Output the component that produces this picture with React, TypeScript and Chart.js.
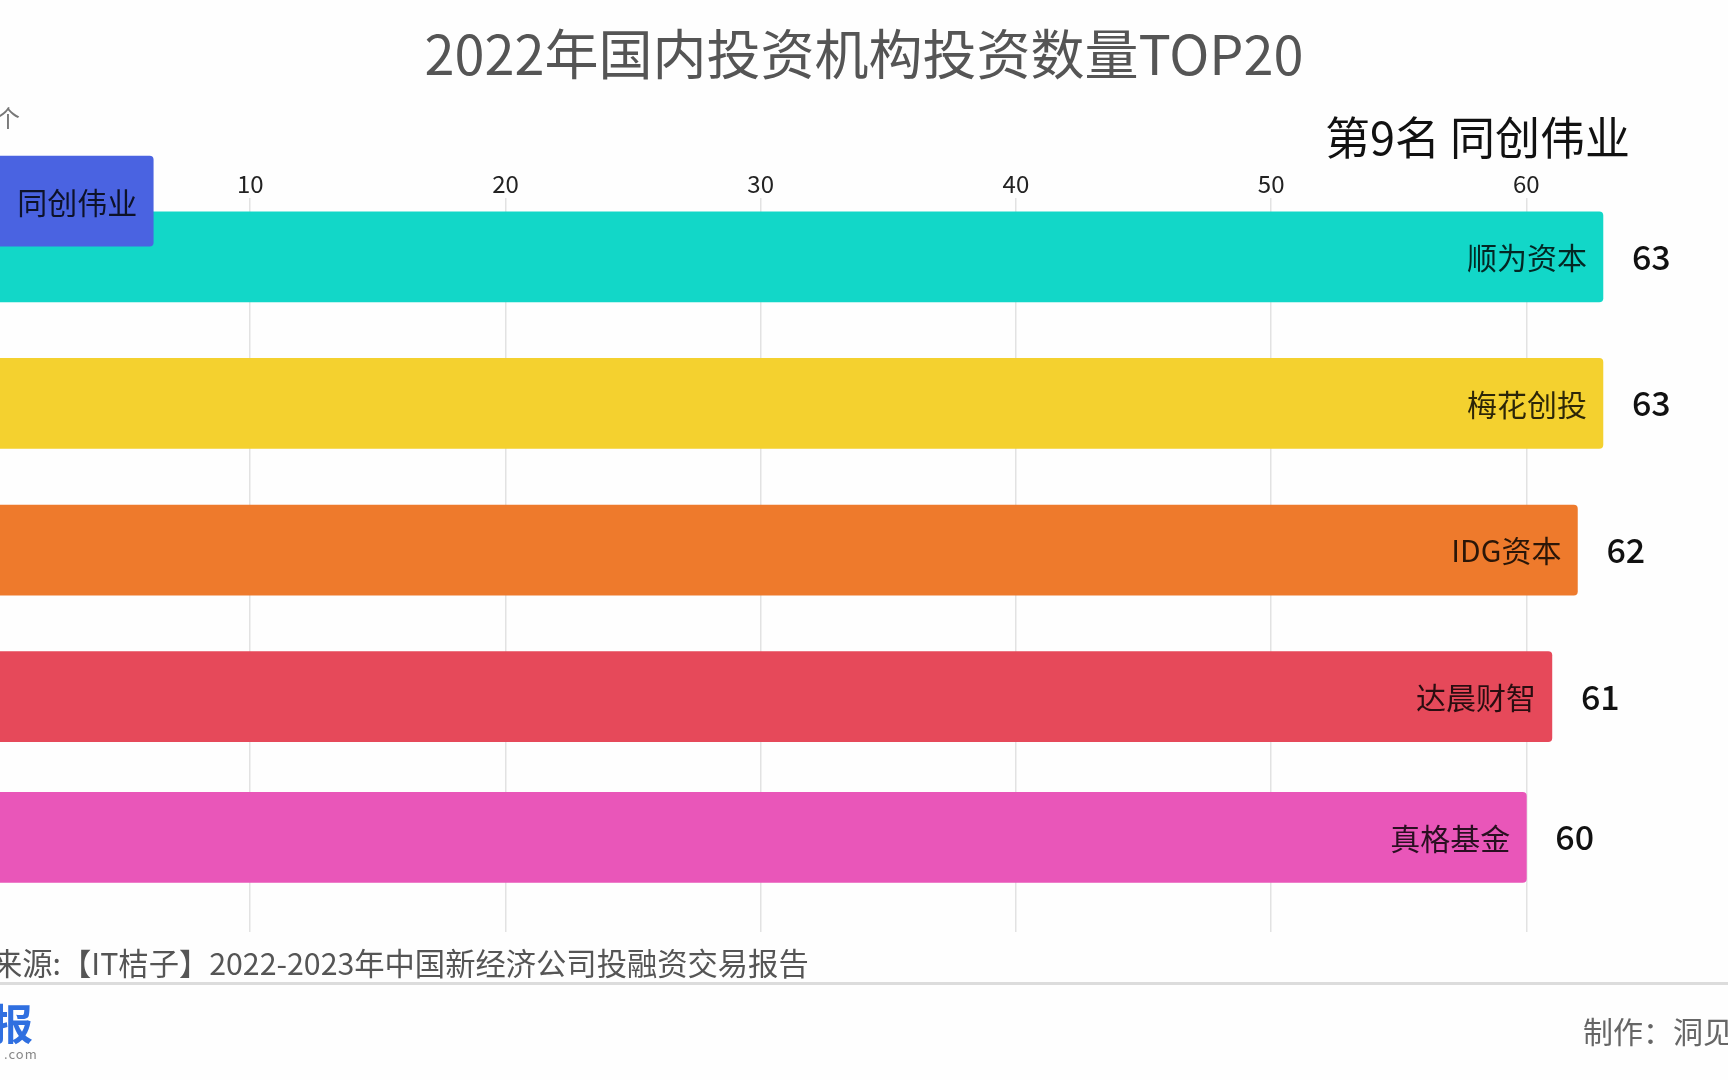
import React, { useEffect, useRef } from "react";
import { Chart, registerables } from "chart.js";

Chart.register(...registerables);

// ---- data (one frame of the bar-chart race) ----
const categories = ["顺为资本", "梅花创投", "IDG资本", "达晨财智", "真格基金", "同创伟业"];
const counts = [63, 63, 62, 61, 60, 6.2];
const showValue = [true, true, true, true, true, false];
// animated rank position of every bar in this frame (0 = top row)
const racePosition = [0, 1, 2, 3, 3.96, -0.38];
const barColors = ["#12d7c8", "#f4d12f", "#ee7a2c", "#e6495a", "#e956b9", "#4a63e1"];
const xTickValues = [10, 20, 30, 40, 50, 60];
const rankMin = -0.4025;
const rankMax = 4.605;

const titleText = "2022年国内投资机构投资数量TOP20";
const unitText = "个";
const rankText = "第9名 同创伟业";
const sourceText = "来源:【IT桔子】2022-2023年中国新经济公司投融资交易报告";
const makerText = "制作：洞见";

const FONT = '"Noto Sans CJK SC", "Noto Sans", sans-serif';

const barLabelPlugin = {
  id: "barLabels",
  afterDatasetsDraw(chart: any) {
    const ctx = chart.ctx;
    const meta = chart.getDatasetMeta(0);
    ctx.save();
    meta.data.forEach((bar: any, i: number) => {
      const x = bar.x;
      const y = bar.y;
      ctx.textBaseline = "middle";
      ctx.textAlign = "right";
      ctx.font = `400 30px ${FONT}`;
      ctx.fillStyle = "rgba(0,0,0,0.82)";
      ctx.fillText(categories[i], x - 16, y + 1);
      if (showValue[i]) {
        ctx.textAlign = "left";
        ctx.font = `500 34px ${FONT}`;
        ctx.fillStyle = "#111";
        ctx.fillText(String(counts[i]), x + 29, y);
      }
    });
    ctx.restore();
  },
};

export default function App() {
  const canvasRef = useRef<HTMLCanvasElement | null>(null);

  useEffect(() => {
    if (!canvasRef.current) return;
    const chart = new Chart(canvasRef.current, {
      type: "bar",
      data: {
        datasets: [
          {
            data: categories.map((c, i) => ({ x: counts[i], y: racePosition[i] })),
            backgroundColor: barColors,
            barThickness: 90,
            borderRadius: 4,
            borderSkipped: "start",
            clip: false as any,
          },
        ],
      },
      options: {
        animation: false,
        responsive: false,
        devicePixelRatio: 1,
        indexAxis: "y",
        layout: { padding: { top: 169, bottom: 148, left: 0, right: 0 } },
        plugins: {
          legend: { display: false },
          tooltip: { enabled: false },
          title: { display: false },
        },
        scales: {
          x: {
            type: "linear",
            position: "top",
            min: 0,
            max: 67.9,
            afterBuildTicks: (scale: any) => {
              scale.ticks = xTickValues.map((v) => ({ value: v }));
            },
            grid: { color: "#e2e2e2", lineWidth: 1.5, drawTicks: false },
            border: { display: false },
            ticks: {
              font: { size: 24, family: FONT },
              color: "#222",
              padding: 0,
            },
          },
          y: {
            type: "linear",
            reverse: true,
            offset: false,
            bounds: "data",
            min: rankMin,
            max: rankMax,
            grid: { offset: false },
            afterBuildTicks: (scale: any) => {
              scale.min = rankMin;
              scale.max = rankMax;
            },
            display: false,
          },
        },
      },
      plugins: [barLabelPlugin],
    } as any);
    return () => chart.destroy();
  }, []);

  const txt = (extra: React.CSSProperties): React.CSSProperties => ({
    position: "absolute",
    fontFamily: FONT,
    lineHeight: 1,
    whiteSpace: "nowrap",
    ...extra,
  });

  return (
    <div
      style={{
        position: "fixed",
        left: 0,
        top: 0,
        width: 1728,
        height: 1080,
        overflow: "hidden",
        background: "#fefefe",
      }}
    >
      <canvas
        ref={canvasRef}
        width={1733}
        height={1080}
        style={{ position: "absolute", left: -5, top: 0, width: 1733, height: 1080 }}
      />
      <div style={txt({ left: 0, width: 1728, top: 25, fontSize: 54, color: "#555", textAlign: "center" })}>
        {titleText}
      </div>
      <div style={txt({ left: -4, top: 105, fontSize: 24, color: "#777" })}>{unitText}</div>
      <div style={txt({ left: 1325, top: 113, fontSize: 45, color: "#111" })}>{rankText}</div>
      <div style={txt({ left: -8, top: 947, fontSize: 30.3, color: "#555" })}>{sourceText}</div>
      <div style={{ position: "absolute", left: 0, top: 982, width: 1728, height: 3, background: "#dcdcdc" }} />
      <div style={txt({ left: -9, top: 1001, fontSize: 42, fontWeight: 700, color: "#2f6fe0" })}>报</div>
      <div style={txt({ left: 4, top: 1047, fontSize: 13, color: "#888", letterSpacing: 1 })}>.com</div>
      <div style={txt({ left: 1583, top: 1015, fontSize: 30, color: "#666" })}>{makerText}</div>
    </div>
  );
}
